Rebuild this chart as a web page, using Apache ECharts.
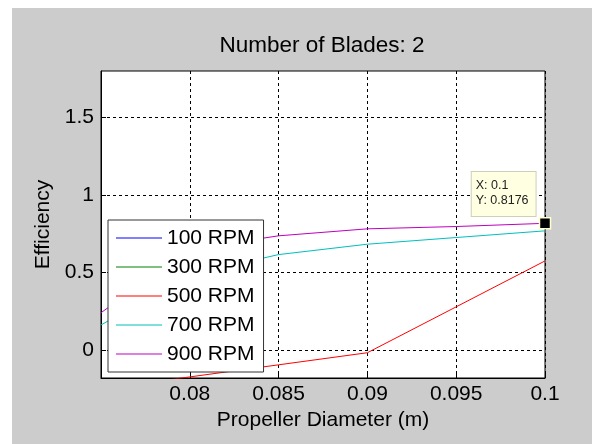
<!DOCTYPE html>
<html>
<head>
<meta charset="utf-8">
<script src="https://cdn.jsdelivr.net/npm/echarts@6/dist/echarts.min.js"></script>
<style>
  html, body { margin: 0; padding: 0; background: #fff; }
  #chart { width: 592px; height: 444px; }
</style>
</head>
<body>
<div id="chart"></div>
<script>
// propeller diameter (m)
const diameters = [0.075, 0.08, 0.085, 0.09, 0.095, 0.1];
// efficiency per rpm (100 and 300 rpm lie below the visible range)
const rpm100 = [-2.6, -2.0, -1.6, -1.3, -1.05, -0.85];
const rpm300 = [-1.4, -1.0, -0.75, -0.58, -0.45, -0.32];
const rpm500 = [-0.25, -0.173, -0.095, -0.017, 0.279, 0.575];
const rpm700 = [0.162, 0.486, 0.616, 0.683, 0.726, 0.769];
const rpm900 = [0.241, 0.65, 0.737, 0.782, 0.797, 0.8176];

const seriesNames = ['100 RPM', '300 RPM', '500 RPM', '700 RPM', '900 RPM'];
const seriesColors = ['#0000ff', '#008000', '#ff0000', '#00bfbf', '#bf00bf'];
const seriesValues = [rpm100, rpm300, rpm500, rpm700, rpm900];

const xTicks = [0.08, 0.085, 0.09, 0.095, 0.1];
const yTicks = [0, 0.5, 1, 1.5];

// data tip
const tipX = 0.1;
const tipY = 0.8176;

function pairs(vals) {
  return diameters.map((d, i) => [d, vals[i]]);
}

let chartDom = document.getElementById('chart');
let myChart = echarts.init(chartDom);

let series = seriesNames.map((name, i) => ({
  name: name,
  type: 'line',
  data: pairs(seriesValues[i]),
  symbol: 'none',
  clip: true,
  lineStyle: { color: seriesColors[i], width: 1 },
  itemStyle: { color: seriesColors[i] }
}));

series[4].markPoint = {
  symbol: 'rect',
  symbolSize: 11,
  itemStyle: { color: '#000', borderColor: '#ffffcc', borderWidth: 1.5 },
  data: [{ coord: [tipX, tipY] }],
  label: {
    show: true,
    position: [-67, -45],
    formatter: 'X: ' + tipX + '\nY: ' + tipY,
    color: '#222',
    fontSize: 12.5,
    lineHeight: 15,
    fontFamily: 'Liberation Sans, Arial, sans-serif',
    backgroundColor: '#ffffe1',
    borderColor: '#cfcfb8',
    borderWidth: 1,
    padding: [6, 7, 8, 4]
  }
};

const font = 'Liberation Sans, Arial, sans-serif';

let option = {
  animation: false,
  backgroundColor: '#cccccc',
  graphic: [
    { type: 'rect', left: 0, top: 0, shape: { width: 592, height: 8 }, style: { fill: '#fff' } },
    { type: 'rect', left: 0, top: 0, shape: { width: 12, height: 444 }, style: { fill: '#fff' } }
  ],
  title: {
    text: 'Number of Blades: 2',
    left: 322,
    top: 34,
    textAlign: 'center',
    padding: 0,
    textStyle: { fontSize: 22.5, fontWeight: 'normal', color: '#000', fontFamily: font }
  },
  legend: {
    orient: 'vertical',
    left: 108,
    top: 220,
    padding: [6, 9, 6, 8],
    itemWidth: 46,
    itemHeight: 14,
    itemGap: 5,
    icon: 'path://M0,0H46V1.2H0Z',
    backgroundColor: '#fff',
    borderColor: '#333',
    borderWidth: 1,
    textStyle: { fontSize: 21, lineHeight: 24, color: '#000', fontFamily: font },
    data: seriesNames
  },
  grid: {
    left: 101,
    right: 47,
    top: 71,
    bottom: 66,
    show: true,
    backgroundColor: '#fff',
    borderColor: '#000',
    borderWidth: 1
  },
  xAxis: {
    type: 'value',
    min: 0.075,
    max: 0.1,
    name: 'Propeller Diameter (m)',
    nameLocation: 'middle',
    nameGap: 31,
    nameTextStyle: { fontSize: 21, color: '#000', fontFamily: font },
    axisLine: { show: true, onZero: false, lineStyle: { color: '#000' } },
    axisTick: { show: true, inside: true, length: 5, customValues: xTicks, lineStyle: { color: '#000' } },
    axisLabel: {
      customValues: xTicks,
      fontSize: 21, color: '#000', fontFamily: font, margin: 6,
      formatter: v => String(+v.toFixed(3))
    },
    splitLine: { show: true, lineStyle: { color: '#000', type: [3, 3], width: 1 } }
  },
  yAxis: {
    type: 'value',
    min: -0.18,
    max: 1.8,
    name: 'Efficiency',
    nameLocation: 'middle',
    nameGap: 44,
    nameTextStyle: { fontSize: 21, color: '#000', fontFamily: font },
    axisLine: { show: true, onZero: false, lineStyle: { color: '#000' } },
    axisTick: { show: true, inside: true, length: 5, customValues: yTicks, lineStyle: { color: '#000' } },
    axisLabel: {
      customValues: yTicks,
      fontSize: 21, color: '#000', fontFamily: font, margin: 7,
      formatter: v => String(v)
    },
    splitLine: { show: true, lineStyle: { color: '#000', type: [3, 3], width: 1 } }
  },
  series: series
};

option && myChart.setOption(option);
</script>
</body>
</html>
